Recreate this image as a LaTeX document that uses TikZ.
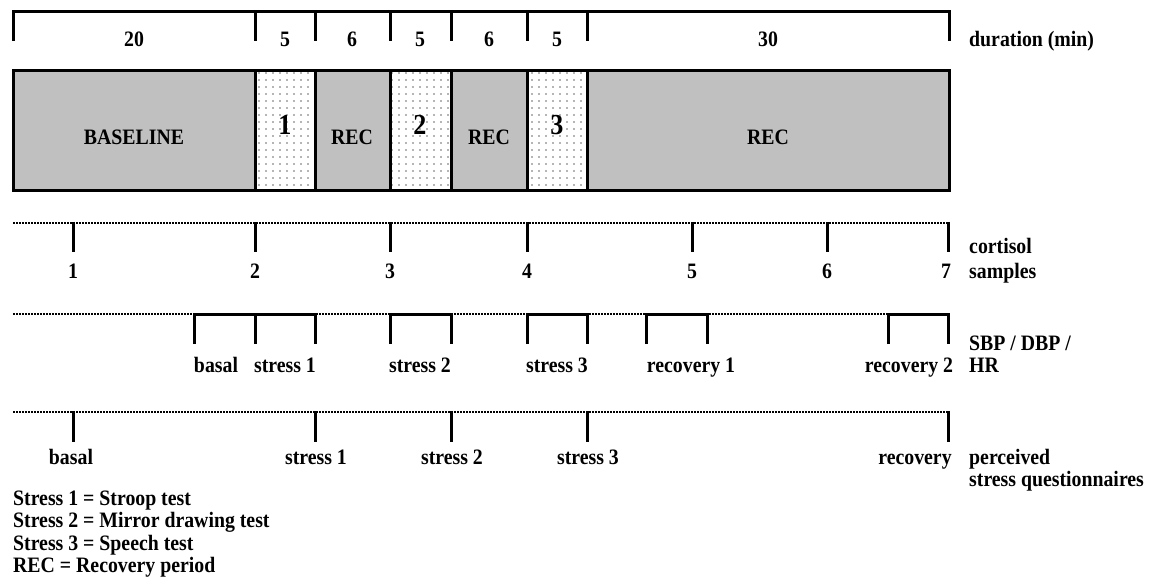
\documentclass[tikz,border=0pt]{standalone}
\usepackage{fontspec}
\setmainfont{Liberation Serif}[FakeStretch=0.9]
\usetikzlibrary{patterns.meta}
\definecolor{phasegray}{RGB}{192,192,192}
\definecolor{dotgray}{RGB}{105,105,105}

\begin{document}
\begin{tikzpicture}[x=1pt, y=-1pt,
    every node/.style={font=\fontsize{22}{24}\selectfont\bfseries, inner sep=0pt, anchor=base},
    bar/.style={line width=3pt},
    dotrule/.style={line width=2.5pt, dash pattern=on 1.5pt off 1.5pt},
    restbox/.style={draw, line width=3pt, fill=phasegray},
    stressbox/.style={draw, line width=3pt, pattern={Dots[distance=7pt, radius=0.8pt]}, pattern color=dotgray},
    bignum/.style={font=\fontsize{29}{30}\selectfont\bfseries},
    rowlabel/.style={anchor=west, align=left}]
    \useasboundingbox (0,0) rectangle (1150,577);

    % Draw duration bracket
    \draw[bar] (13,41) -- (13,12) -- (949,12) -- (949,41);
    \draw[bar] (255,12) -- (255,41);
    \draw[bar] (315,12) -- (315,41);
    \draw[bar] (390,12) -- (390,41);
    \draw[bar] (451,12) -- (451,41);
    \draw[bar] (527,12) -- (527,41);
    \draw[bar] (587,12) -- (587,41);
    \node (d1) at (134,47) {20};
    \node (d2) at (285,47) {5};
    \node (d3) at (352,47) {6};
    \node (d4) at (420,47) {5};
    \node (d5) at (489,47) {6};
    \node (d6) at (557,47) {5};
    \node (d7) at (768,47) {30};
    \node[anchor=base west] (durlbl) at (969,47) {duration (min)};

    % Draw phases
    \draw[restbox] (13,71) rectangle (255,191);
    \draw[stressbox] (255,71) rectangle (315,191);
    \draw[restbox] (315,71) rectangle (390,191);
    \draw[stressbox] (390,71) rectangle (451,191);
    \draw[restbox] (451,71) rectangle (527,191);
    \draw[stressbox] (527,71) rectangle (587,191);
    \draw[restbox] (587,71) rectangle (949,191);
    \node (base) at (134,145) {BASELINE};
    \node[bignum] (st1) at (285,135) {1};
    \node (rec1) at (352,145) {REC};
    \node[bignum] (st2) at (420,135) {2};
    \node (rec2) at (489,145) {REC};
    \node[bignum] (st3) at (557,135) {3};
    \node (rec3) at (768,145) {REC};

    % Cortisol samples
    \draw[dotrule] (13,223) -- (948,223);
    \draw[bar] (73,222) -- (73,252);
    \draw[bar] (255,222) -- (255,252);
    \draw[bar] (390,222) -- (390,252);
    \draw[bar] (527,222) -- (527,252);
    \draw[bar] (692,222) -- (692,252);
    \draw[bar] (827,222) -- (827,252);
    \draw[bar] (948,222) -- (948,252);
    \node (c1) at (73,278) {1};
    \node (c2) at (255,278) {2};
    \node (c3) at (390,278) {3};
    \node (c4) at (527,278) {4};
    \node (c5) at (692,278) {5};
    \node (c6) at (827,278) {6};
    \node (c7) at (946,278) {7};
    \node[anchor=base west] (cortlbl) at (969,254) {cortisol};
    \node[anchor=base west] (samplbl) at (969,278) {samples};

    % SBP / DBP / HR
    \draw[dotrule] (13,314) -- (948,314);
    \draw[bar] (194,344) -- (194,314) -- (315,314) -- (315,344);
    \draw[bar] (255,314) -- (255,344);
    \draw[bar] (390,344) -- (390,314) -- (451,314) -- (451,344);
    \draw[bar] (527,344) -- (527,314) -- (587,314) -- (587,344);
    \draw[bar] (646,344) -- (646,314) -- (707,314) -- (707,344);
    \draw[bar] (888,344) -- (888,314) -- (948,314) -- (948,344);
    \node (b1) at (216,372) {basal};
    \node (b2) at (285,372) {stress 1};
    \node (b3) at (420,372) {stress 2};
    \node (b4) at (557,372) {stress 3};
    \node (b5) at (691,372) {recovery 1};
    \node (b6) at (909,372) {recovery 2};
    \node[anchor=base west] (bplbl) at (969,350) {SBP / DBP /};
    \node[anchor=base west] (hrlbl) at (969,372) {HR};

    % Perceived stress questionnaires
    \draw[dotrule] (13,412) -- (948,412);
    \draw[bar] (73,411) -- (73,442);
    \draw[bar] (315,411) -- (315,442);
    \draw[bar] (451,411) -- (451,442);
    \draw[bar] (587,411) -- (587,442);
    \draw[bar] (948,411) -- (948,442);
    \node (q1) at (71,464) {basal};
    \node (q2) at (316,464) {stress 1};
    \node (q3) at (452,464) {stress 2};
    \node (q4) at (588,464) {stress 3};
    \node (q5) at (915,464) {recovery};
    \node[anchor=base west] (qlbl) at (969,464) {perceived};
    \node[anchor=base west] (qlbl2) at (969,486) {stress questionnaires};

    % Legend
    \node[anchor=base west] (leg1) at (13,505) {Stress 1 = Stroop test};
    \node[anchor=base west] (leg2) at (13,527.5) {Stress 2 = Mirror drawing test};
    \node[anchor=base west] (leg3) at (13,550) {Stress 3 = Speech test};
    \node[anchor=base west] (leg4) at (13,572) {REC = Recovery period};
\end{tikzpicture}
\end{document}
